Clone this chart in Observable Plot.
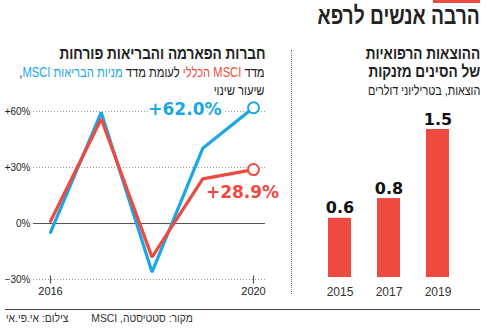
<!DOCTYPE html>
<html><head><meta charset="utf-8">
<script src="https://cdn.jsdelivr.net/npm/d3@7"></script>
<script src="https://cdn.jsdelivr.net/npm/@observablehq/plot@0.6"></script>
<style>
body{margin:0;background:#fff;font-family:"Liberation Sans","DejaVu Sans",sans-serif;color:#1a1a1a;}
#wrap{position:relative;width:490px;height:329px;overflow:hidden;background:#fff;}
.abs{position:absolute;}
.rtl{direction:rtl;text-align:right;white-space:nowrap;}
.cond{transform:scaleX(0.8);transform-origin:right top;}
.cond9{transform:scaleX(0.9);transform-origin:right top;}
</style></head><body><div id="wrap">
<div id="leftChart" class="abs" style="left:0;top:95px;width:280px;height:210px;"></div>
<div id="rightChart" class="abs" style="left:295px;top:95px;width:195px;height:210px;"></div>
<div class="abs" style="left:433px;top:0;width:47px;height:2.5px;background:#ef4a3f;"></div>
<div class="abs rtl cond" id="title" style="right:10px;top:4px;font-size:24px;line-height:24px;font-weight:bold;color:#222;"></div>
<div class="abs rtl cond" id="leftTitle" style="right:225px;top:45px;font-size:17px;line-height:18px;font-weight:bold;color:#222;"></div>
<div class="abs rtl cond" id="leftSub" style="right:225px;top:63px;font-size:14px;line-height:18px;color:#222;"></div>
<div class="abs rtl cond" id="rightTitle" style="right:10px;top:45px;font-size:17px;line-height:17.5px;font-weight:bold;color:#222;"></div>
<div class="abs rtl cond" id="rightSub" style="right:10px;top:82px;font-size:13.5px;line-height:18px;color:#222;"></div>
<div class="abs" style="left:291px;top:50px;width:0;height:244px;border-left:1.5px dotted #777;"></div>
<div class="abs" style="left:5px;top:308.5px;width:475px;height:0;border-top:1.4px solid #444;"></div>
<div class="abs rtl cond9" id="source" style="right:297px;top:311px;font-size:11.5px;line-height:14px;color:#333;"></div>
<div class="abs rtl cond9" id="photo" style="right:422px;top:311px;font-size:11.5px;line-height:14px;color:#333;"></div>
</div>
<script>
// ---- data ----
const years = [2016, 2017, 2018, 2019, 2020];
const healthcare = [-4.7, 59.5, -26, 40.3, 62.0];   // MSCI health-care index, % change
const msciAll = [1.2, 56, -18, 23.9, 28.9];          // MSCI general index, % change
const yTicks = [-30, 0, 30, 60];
const xTicks = [2016, 2020];
const spendYears = ["2015", "2017", "2019"];
const spending = [0.6, 0.8, 1.5];                   // trillion dollars

const titleText = "הרבה אנשים לרפא";
const leftTitleText = "חברות הפארמה והבריאות פורחות";
const rightTitleLines = ["ההוצאות הרפואיות", "של הסינים מזנקות"];
const rightSubText = "הוצאות, בטריליוני דולרים";
const sourceText = "מקור: סטטיסטה, MSCI";
const photoText = "צילום: אי.פי.אי";

const blue = "#1aa7e3", red = "#ef4a3f";

document.getElementById("title").textContent = titleText;
document.getElementById("leftTitle").textContent = leftTitleText;
document.getElementById("leftSub").innerHTML =
  'מדד <span style="color:' + red + '">MSCI הכללי</span> לעומת מדד <span style="color:' + blue + '">מניות הבריאות MSCI</span>,<br>שיעור שינוי';
document.getElementById("rightTitle").innerHTML = rightTitleLines.join("<br>");
document.getElementById("rightSub").textContent = rightSubText;
document.getElementById("source").textContent = sourceText;
document.getElementById("photo").textContent = photoText;

const pct = d => d > 0 ? `+${d}%` : d < 0 ? `\u2212${-d}%` : "0%";
const lastIdx = years.length - 1;
const endLabels = [
  {year: years[lastIdx], value: healthcare[lastIdx], color: blue},
  {year: years[lastIdx], value: msciAll[lastIdx], color: red}
];
const tickSymbol = {draw(ctx) { ctx.moveTo(0, -4); ctx.lineTo(0, 4); }};

const left = Plot.plot({
  width: 280, height: 210,
  marginLeft: 50, marginRight: 27, marginTop: 16, marginBottom: 26,
  style: {fontFamily: "Liberation Sans, DejaVu Sans, sans-serif", background: "transparent", overflow: "visible"},
  x: {domain: [2016, 2020]},
  y: {domain: [-30, 60]},
  marks: [
    Plot.ruleY(yTicks.filter(d => d !== 0), {stroke: "#9a9a9a", strokeDasharray: "1,2", insetLeft: -17, insetRight: -12}),
    Plot.ruleY([0], {stroke: "#555", strokeWidth: 1.2, insetLeft: -17, insetRight: -12}),
    Plot.axisY({ticks: yTicks, tickSize: 0, tickPadding: 20, tickFormat: pct, fontSize: 10, fill: "#222", label: null}),
    Plot.axisX({ticks: xTicks, tickSize: 0, tickPadding: 8, tickFormat: "d", fontSize: 11, fill: "#222", label: null}),
    Plot.dot(xTicks, {x: d => d, y: () => yTicks[0], symbol: tickSymbol, stroke: "#555", strokeWidth: 1.2, fill: "none"}),
    Plot.line(years, {x: d => d, y: (d, i) => healthcare[i], stroke: blue, strokeWidth: 3.2, strokeLinejoin: "miter"}),
    Plot.line(years, {x: d => d, y: (d, i) => msciAll[i], stroke: red, strokeWidth: 3.2, strokeLinejoin: "miter"}),
    Plot.dot(endLabels, {x: "year", y: "value", r: 5.5, fill: "white", stroke: d => d.color, strokeWidth: 2}),
    Plot.text(endLabels.slice(0, 1), {x: "year", y: "value", text: d => d3.format("+.1f")(d.value) + "%", dx: -32, dy: 1.5, textAnchor: "end",
      fontSize: 17, fontWeight: "bold", fontFamily: "DejaVu Sans", fill: d => d.color, stroke: "white", strokeWidth: 5}),
    Plot.text(endLabels.slice(1), {x: "year", y: "value", text: d => d3.format("+.1f")(d.value) + "%", dx: -11, dy: 23, textAnchor: "middle",
      fontSize: 17, fontWeight: "bold", fontFamily: "DejaVu Sans", fill: d => d.color, stroke: "white", strokeWidth: 4})
  ]
});
document.getElementById("leftChart").appendChild(left);

const right = Plot.plot({
  width: 195, height: 210,
  marginLeft: 20.5, marginRight: 27.5, marginTop: 34, marginBottom: 28,
  style: {fontFamily: "Liberation Sans, DejaVu Sans, sans-serif", background: "transparent", overflow: "visible"},
  x: {domain: spendYears, paddingInner: 0.53, paddingOuter: 0.265, axis: null},
  y: {domain: [0, 1.5], axis: null},
  marks: [
    Plot.barY(spendYears, {x: d => d, y: (d, i) => spending[i], fill: red}),
    Plot.text(spendYears, {x: d => d, y: (d, i) => spending[i], text: (d, i) => d3.format(".1f")(spending[i]),
      dy: -5, lineAnchor: "bottom", fontSize: 16, fontWeight: "bold", fontFamily: "DejaVu Sans", fill: "#111"}),
    Plot.axisX({tickSize: 0, tickPadding: 10, fontSize: 12, fill: "#333", label: null})
  ]
});
document.getElementById("rightChart").appendChild(right);
</script>
</body></html>
